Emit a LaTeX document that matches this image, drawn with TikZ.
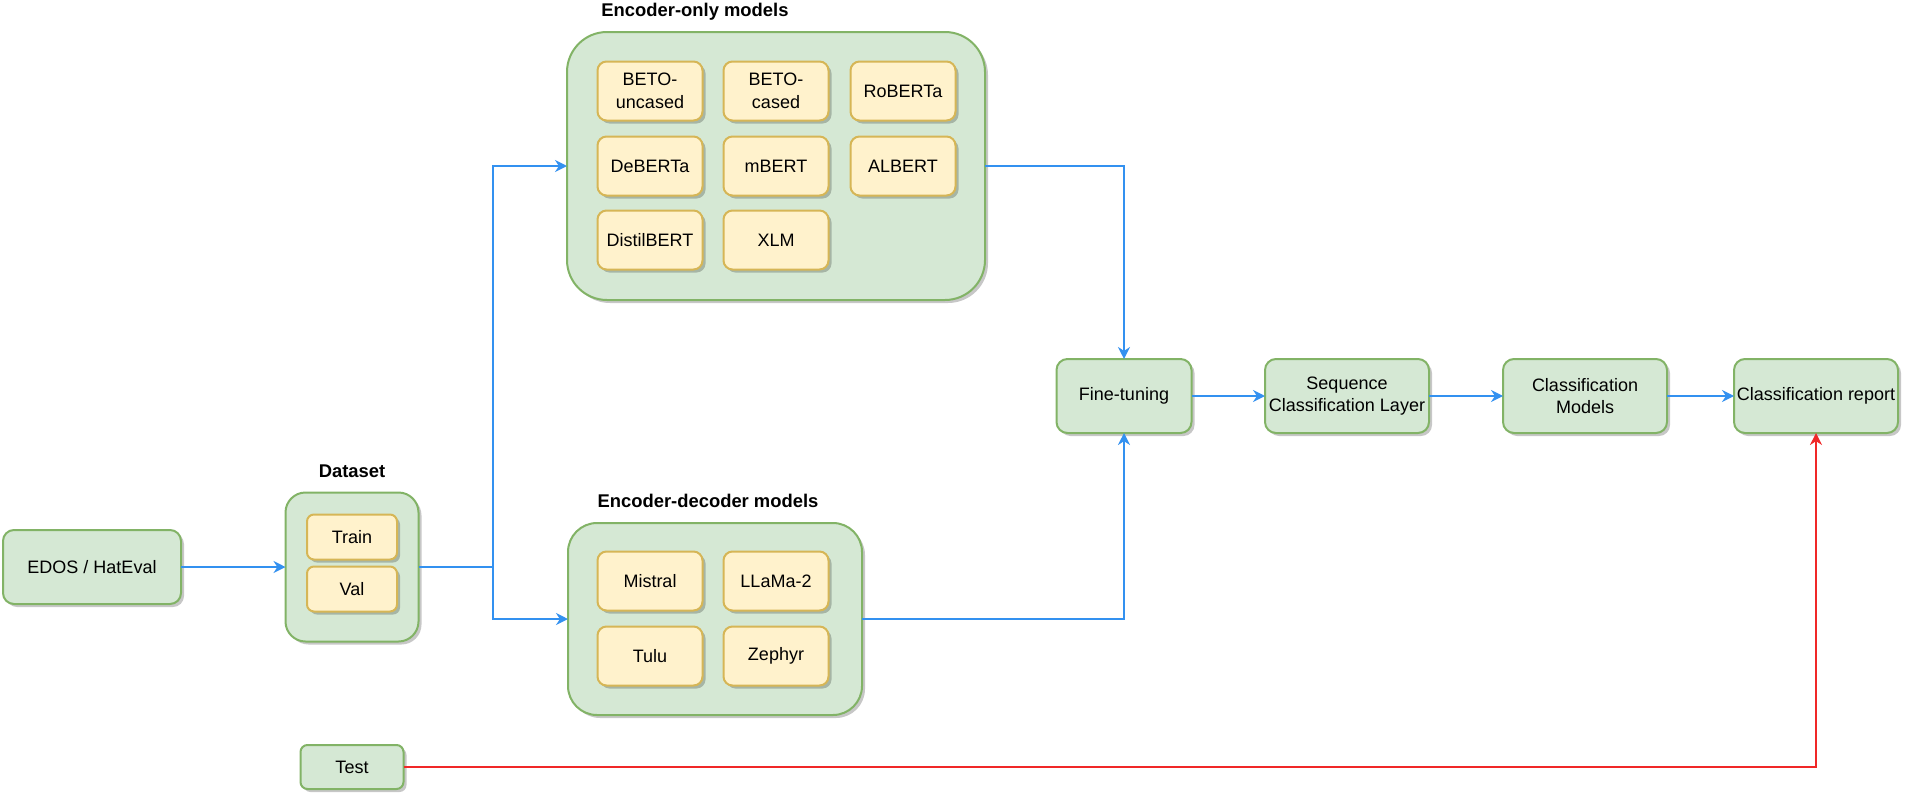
\documentclass[tikz,border=0pt]{standalone}
\usepackage{fontspec}
\setmainfont{Liberation Sans}
\usetikzlibrary{arrows.meta, shadows}
\definecolor{boxFill}{RGB}{213,232,212}
\definecolor{boxLine}{RGB}{130,179,102}
\definecolor{modelFill}{RGB}{255,242,204}
\definecolor{modelLine}{RGB}{214,182,86}
\definecolor{flowBlue}{RGB}{51,145,240}
\definecolor{flowRed}{RGB}{240,40,40}
\newcommand{\lineWidth}{1pt}
\newcommand{\arrow}{{Stealth[length=6pt, width=6pt]}}
\newcommand{\modelW}{52.5pt}
\newcommand{\modelH}{29.5pt}
\newcommand{\stepW}{82pt}
\newcommand{\stepH}{37pt}
\tikzstyle{panel}=[inner sep=0, outer sep=0, align=center, font=\fontsize{9pt}{11.3pt}\selectfont,
  drop shadow={shadow xshift=1.5pt, shadow yshift=-1.5pt, fill=black, opacity=0.22}]
\tikzstyle{box}=[panel, draw=boxLine, fill=boxFill, line width=\lineWidth, rounded corners=5.5pt]
\tikzstyle{group}=[box, rounded corners=20pt]
\tikzstyle{model}=[panel, draw=modelLine, fill=modelFill, line width=\lineWidth, rounded corners=4.5pt,
  minimum width=\modelW, minimum height=\modelH]
\tikzstyle{stepbox}=[box, minimum width=\stepW, minimum height=\stepH]
\tikzstyle{title}=[inner sep=0, anchor=base, font=\fontsize{9.2pt}{11.3pt}\selectfont\bfseries]
\tikzstyle{line}=[draw=flowBlue, line width=\lineWidth]
\tikzstyle{arrow}=[line, -\arrow]

\begin{document}
\begin{tikzpicture}[x=0.5pt, y=-0.5pt]

% Frame
\useasboundingbox (0,0) rectangle (1905,798);

% Input and dataset
\node[box, minimum width=89pt, minimum height=37pt] (edos) at (92,567) {EDOS / HatEval};
\node[box, rounded corners=10pt, minimum width=66.5pt, minimum height=74.5pt] (dataset) at (352,567) {};
\node[title] (datasetTitle) at (352,477) {Dataset};
\node[model, minimum width=45pt, minimum height=22.5pt, rounded corners=3.5pt] (train) at (352,537) {Train};
\node[model, minimum width=45pt, minimum height=22.5pt, rounded corners=3.5pt] (val) at (352,589) {Val};
\node[box, rounded corners=3.5pt, minimum width=51.5pt, minimum height=22pt] (test) at (352,767) {Test};

% Encoder-only models
\node[group, minimum width=209pt, minimum height=134pt] (encOnly) at (776,166) {};
\node[title] (encOnlyTitle) at (695,16) {Encoder-only models};
\node[model] (betoUncased) at (650,91) {BETO-\\uncased};
\node[model] (betoCased) at (776,91) {BETO-\\cased};
\node[model] (roberta) at (903,91) {RoBERTa};
\node[model] (deberta) at (650,166) {DeBERTa};
\node[model] (mbert) at (776,166) {mBERT};
\node[model] (albert) at (903,166) {ALBERT};
\node[model] (distilbert) at (650,240) {DistilBERT};
\node[model] (xlm) at (776,240) {XLM};

% Encoder-decoder models
\node[group, rounded corners=14.5pt, minimum width=147pt, minimum height=96pt] (encDec) at (715,619) {};
\node[title] (encDecTitle) at (708,507) {Encoder-decoder models};
\node[model] (mistral) at (650,581) {Mistral};
\node[model] (llama) at (776,581) {LLaMa-2};
\node[model] (tulu) at (650,656) {Tulu};
\node[model] (zephyr) at (776,656) {Zephyr};

% Pipeline
\node[stepbox, minimum width=67.5pt] (fine) at (1124,396) {Fine-tuning};
\node[stepbox] (seq) at (1347,396) {Sequence\\Classification Layer};
\node[stepbox] (clsModels) at (1585,396) {Classification\\Models};
\node[stepbox] (report) at (1816,396) {Classification report};

% Connectors
\coordinate (split) at (493,567);
\draw[arrow] (edos) -- (dataset);
\draw[line] (dataset.east) -- (split);
\draw[arrow] (split) |- (encOnly.west);
\draw[arrow] (split) |- (encDec.west);
\draw[arrow] (encOnly.east) -| (fine.north);
\draw[arrow] (encDec.east) -| (fine.south);
\draw[arrow] (fine) -- (seq);
\draw[arrow] (seq) -- (clsModels);
\draw[arrow] (clsModels) -- (report);
\draw[arrow, draw=flowRed] (test.east) -| (report.south);

\end{tikzpicture}
\end{document}
